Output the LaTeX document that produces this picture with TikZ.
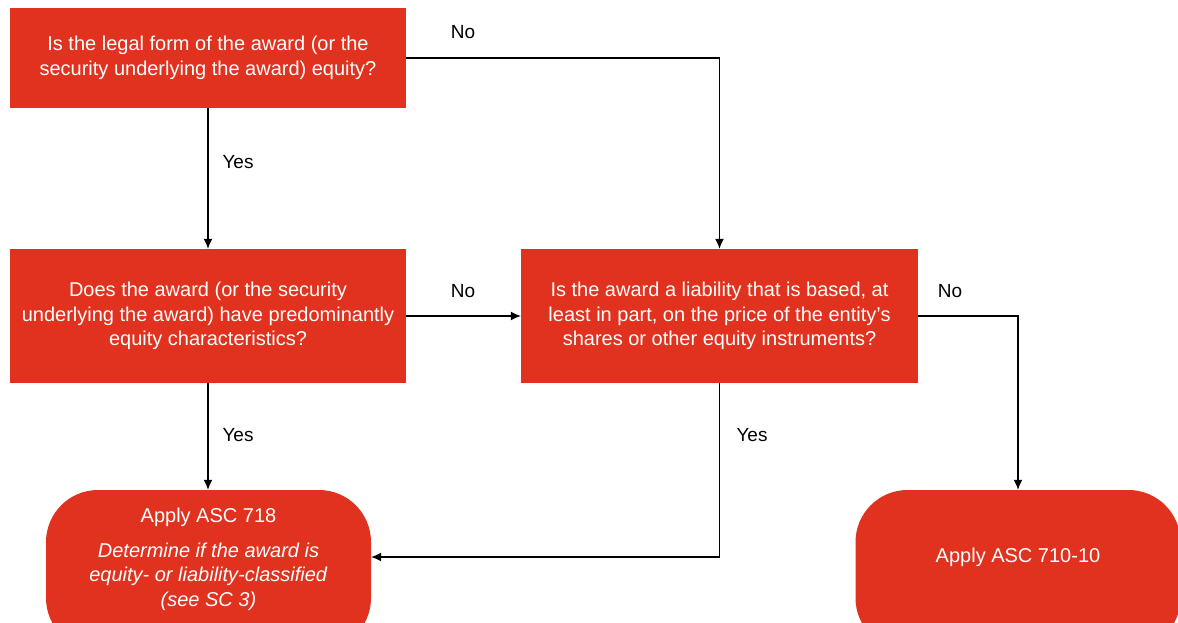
\documentclass[tikz,border=0pt]{standalone}
\usepackage{fontspec}
\setmainfont{Liberation Sans}
\usetikzlibrary{arrows.meta}
\definecolor{boxred}{RGB}{224,50,30}
\begin{document}
\begin{tikzpicture}[x=1pt,y=-1pt,
  txt/.style={font=\fontsize{20}{24.5}\selectfont},
  box/.style={fill=boxred, draw=none, text=white, align=center, txt, inner sep=2pt},
  term/.style={fill=boxred, draw=none, rounded corners=52pt, minimum width=325pt, minimum height=160pt},
  lbl/.style={font=\fontsize{19}{24}\selectfont, text=black, inner sep=0pt},
  arr/.style={-{Latex[length=10pt,width=9pt]}, line width=1.3pt, black}]
\useasboundingbox (0,0) rectangle (1178,623);
\clip (0,0) rectangle (1178,623);
\node[box, minimum width=396pt, minimum height=100pt] (A) at (208,58)
  {Is the legal form of the award (or the\\security underlying the award) equity?};
\node[box, minimum width=396pt, minimum height=134pt] (B) at (208,316)
  {Does the award (or the security\\underlying the award) have predominantly\\equity characteristics?};
\node[box, minimum width=397pt, minimum height=134pt] (C) at (719.5,316)
  {Is the award a liability that is based, at\\least in part, on the price of the entity’s\\shares or other equity instruments?};
\node[term] (D) at (208.5,570) {};
\node[term] (E) at (1018,570) {};
\node[align=center, text=white, txt, inner sep=0pt] (Dt) at (208.5,559.5)
  {Apply ASC 718\\[10pt]\textit{Determine if the award is}\\\textit{equity- or liability-classified}\\\textit{(see SC 3)}};
\node[text=white, txt, inner sep=0pt] (Et) at (1018,557) {Apply ASC 710-10};
\node[lbl] (l1) at (463,32) {No};
\node[lbl] (l2) at (238,162) {Yes};
\node[lbl] (l3) at (463,291) {No};
\node[lbl] (l4) at (238,435) {Yes};
\node[lbl] (l5) at (752,435) {Yes};
\node[lbl] (l6) at (950,291) {No};
\draw[arr] (A.south) -- (B.north);
\draw[arr] (A.east) -| (C.north);
\draw[arr] (B.east) -- (C.west);
\draw[arr] (B.south) -- (B.south |- D.north);
\draw[arr] (C.south) |- (D.east |- Et.center);
\draw[arr] (C.east) -| (E.north);
\end{tikzpicture}
\end{document}
